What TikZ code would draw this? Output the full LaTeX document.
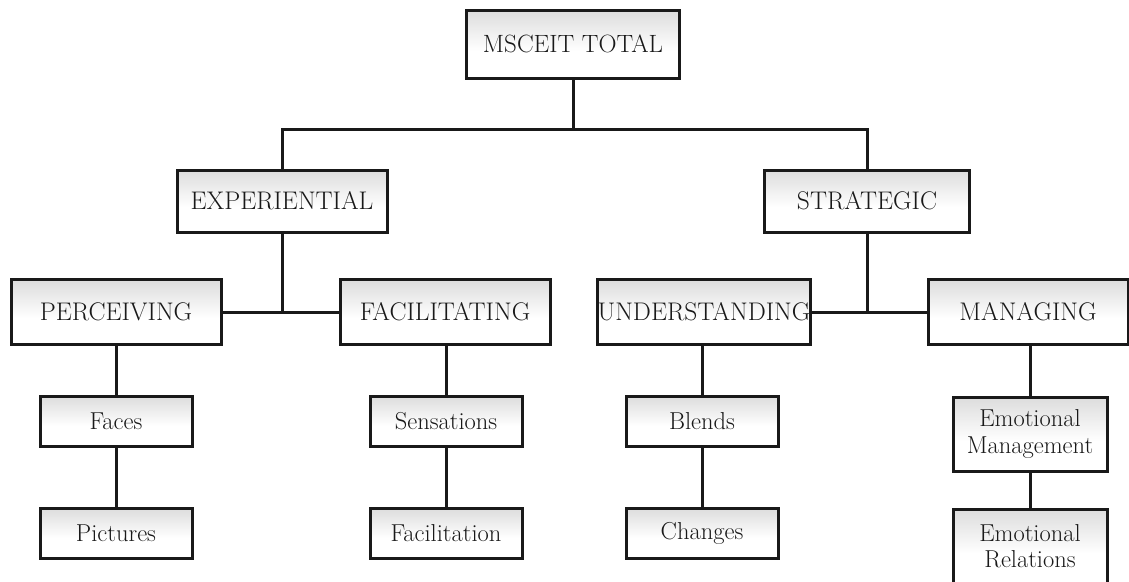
\documentclass[tikz,border=0pt]{standalone}
\usepackage{tikz}
\usetikzlibrary{positioning,calc}
\pgfdeclareverticalshading{boxshade}{100bp}{color(0bp)=(white); color(45bp)=(white); color(78bp)=(black!15); color(100bp)=(black!60)}

\begin{document}
\begin{tikzpicture}[x=1pt, y=1pt, every node/.style={align=center},
  box/.style={draw=black!90, line width=3pt, inner sep=0pt, text=black!90, shading=boxshade},
  bigbox/.style={box, minimum width=210pt, minimum height=65pt, font=\fontsize{25.5}{28}\selectfont},
  smallbox/.style={box, minimum width=152pt, minimum height=50pt, font=\fontsize{24.5}{26.5}\selectfont},
  conn/.style={line width=3pt, black!90}]
\useasboundingbox (0,0) rectangle (1129,-581);
% top
\node[box, minimum width=213pt, minimum height=68pt, font=\fontsize{25}{28}\selectfont] (total) at (573,-44) {MSCEIT TOTAL};
% branches
\node[bigbox, minimum height=62pt] (exp) at (282,-201) {EXPERIENTIAL};
\node[bigbox, minimum height=62pt, minimum width=205pt] (str) at (867,-201) {STRATEGIC};
\node[bigbox] (perc) at (116,-312) {PERCEIVING};
\node[bigbox] (facil) at (445,-312) {FACILITATING};
\node[bigbox] (und) at (704,-312) {UNDERSTANDING};
\node[bigbox, minimum width=200pt] (man) at (1028,-312) {MANAGING};
% tasks
\node[smallbox] (faces) at (116,-421) {Faces};
\node[smallbox] (pict) at (116,-533) {Pictures};
\node[smallbox] (sens) at (446,-421) {Sensations};
\node[smallbox] (facn) at (446,-533) {Facilitation};
\node[smallbox] (blend) at (702,-421) {Blends};
\node[smallbox] (chg) at (702,-533) {Changes};
\node[smallbox, minimum width=154pt, minimum height=74pt] (emgt) at (1030,-434) {Emotional\\Management};
\node[smallbox, minimum width=154pt, minimum height=74pt] (erel) at (1030,-546) {Emotional\\Relations};
% connectors
\coordinate (bar) at ($(total.south)+(0,-50)$);
\draw[conn] (total.south) -- (bar);
\draw[conn] (exp.north) |- (bar) -| (str.north);
\draw[conn] (exp.south) -- (exp.south |- perc.east);
\draw[conn] (perc.east) -- (facil.west);
\draw[conn] (str.south) -- (str.south |- und.east);
\draw[conn] (und.east) -- (man.west);
\draw[conn] (perc.south -| faces.north) -- (faces.north);
\draw[conn] (faces) -- (pict);
\draw[conn] (facil.south -| sens.north) -- (sens.north);
\draw[conn] (sens) -- (facn);
\draw[conn] (und.south -| blend.north) -- (blend.north);
\draw[conn] (blend) -- (chg);
\draw[conn] (man.south -| emgt.north) -- (emgt.north);
\draw[conn] (emgt) -- (erel);
\end{tikzpicture}
\end{document}
